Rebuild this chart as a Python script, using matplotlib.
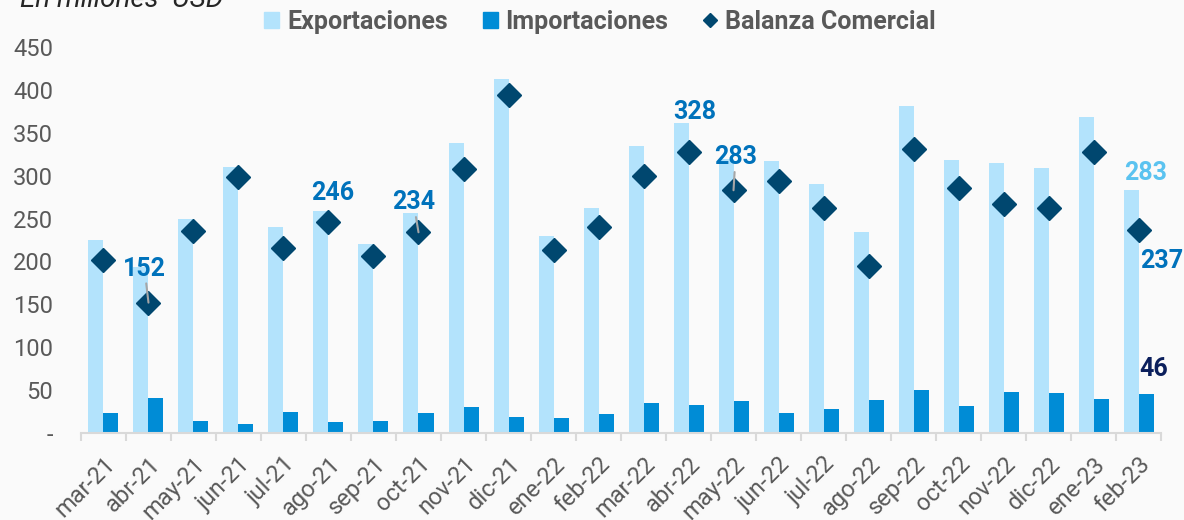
import numpy as np
import matplotlib
matplotlib.use('Agg')
import matplotlib.pyplot as plt
from matplotlib.patches import Patch
from matplotlib.lines import Line2D

plt.rcParams['font.family'] = ['Roboto', 'DejaVu Sans']

# Data (millones de USD)
months = ['mar-21', 'abr-21', 'may-21', 'jun-21', 'jul-21', 'ago-21', 'sep-21', 'oct-21',
          'nov-21', 'dic-21', 'ene-22', 'feb-22', 'mar-22', 'abr-22', 'may-22', 'jun-22',
          'jul-22', 'ago-22', 'sep-22', 'oct-22', 'nov-22', 'dic-22', 'ene-23', 'feb-23']
exports = [225, 193, 249, 310, 240, 259, 220, 257, 338, 413, 230, 262, 335, 361,
           320, 317, 290, 234, 381, 318, 315, 309, 368, 283]
imports = [23, 41, 14, 11, 24, 13, 14, 23, 30, 19, 17, 22, 35, 33,
           37, 23, 28, 39, 50, 32, 48, 47, 40, 46]
balance = [202, 152, 235, 299, 216, 246, 206, 234, 308, 394, 213, 240, 300, 328,
           283, 294, 262, 195, 331, 286, 267, 262, 328, 237]

# which balance points get a label: index -> (dx, dy) in pixels, leader line?
bal_labels = {1: (-4, 34, True), 5: (4, 29, False), 7: (-5, 30, True),
              13: (6, 40, False), 14: (2, 33, True), 23: (23, -31, False)}

c_exp = '#b3e3fc'
c_imp = '#008cd6'
c_bal = '#00476f'
c_lab = '#0072bb'
c_txt = '#595959'
bg = '#fafafa'

fig = plt.figure(figsize=(11.84, 5.2), dpi=100, facecolor=bg)
ax = fig.add_axes([0.0684, 0.1673, 0.9122, 0.7423], facecolor=bg)

x = np.arange(len(months))
w = 1 / 3
ax.bar(x - w / 2, exports, w, color=c_exp, zorder=2)
ax.bar(x + w / 2, imports, w, color=c_imp, zorder=2)
ax.plot(x, balance, linestyle='none', marker='D', markersize=12.5,
        color=c_bal, zorder=3)

for i, (dx, dy, lead) in bal_labels.items():
    props = dict(arrowstyle='-', color='#a6a6a6', lw=1.5, shrinkA=0, shrinkB=0) if lead else None
    ax.annotate(str(balance[i]), xy=(x[i], balance[i]), xytext=(dx, dy),
                textcoords='offset pixels', ha='center', va='center',
                fontsize=18, fontweight='bold', color=c_lab, zorder=5,
                arrowprops=props, annotation_clip=False)

last = len(months) - 1
ax.annotate(str(exports[last]), xy=(x[last] - w / 2, exports[last]), xytext=(15, 17),
            textcoords='offset pixels', ha='center', va='center',
            fontsize=18, fontweight='bold', color='#5bc3f0', zorder=5)
ax.annotate(str(imports[last]), xy=(x[last] + w / 2, imports[last]), xytext=(8, 25),
            textcoords='offset pixels', ha='center', va='center',
            fontsize=18, fontweight='bold', color='#0b1f5c', zorder=5)

ax.set_xlim(-0.5, len(months) - 0.5)
ax.set_ylim(0, 450)

yt = np.arange(0, 451, 50)
ax.set_yticks(yt)
ax.set_yticklabels(['-'] + [str(v) for v in yt[1:]])
ax.tick_params(axis='y', length=0, pad=20, labelsize=17, labelcolor=c_txt)

ax.set_xticks(x)
ax.set_xticklabels(months, rotation=45, ha='right', rotation_mode='anchor')
ax.tick_params(axis='x', which='major', length=0, pad=14, labelsize=17, labelcolor=c_txt)
ax.set_xticks(np.arange(-0.5, len(months)), minor=True)
ax.tick_params(axis='x', which='minor', length=6, width=1.5, color='#d9d9d9')

for s in ['top', 'right', 'left']:
    ax.spines[s].set_visible(False)
ax.spines['bottom'].set_color('#d9d9d9')
ax.spines['bottom'].set_linewidth(1.5)

handles = [Patch(color=c_exp, label='Exportaciones'),
           Patch(color=c_imp, label='Importaciones'),
           Line2D([], [], linestyle='none', marker='D', markersize=7, color=c_bal,
                  label='Balanza Comercial')]
leg = fig.legend(handles=handles, loc='center', bbox_to_anchor=(0.507, 0.958), ncol=3,
                 frameon=False, prop={'weight': 'bold', 'size': 18},
                 handlelength=0.6, handleheight=0.6, handletextpad=0.3, columnspacing=1.4)
for t in leg.get_texts():
    t.set_color(c_txt)

fig.text(0.017, 1.0, 'En millones  USD', fontsize=20, style='italic', color='#262626',
         ha='left', va='center')

fig.savefig('out.png', dpi=100, facecolor=bg)
